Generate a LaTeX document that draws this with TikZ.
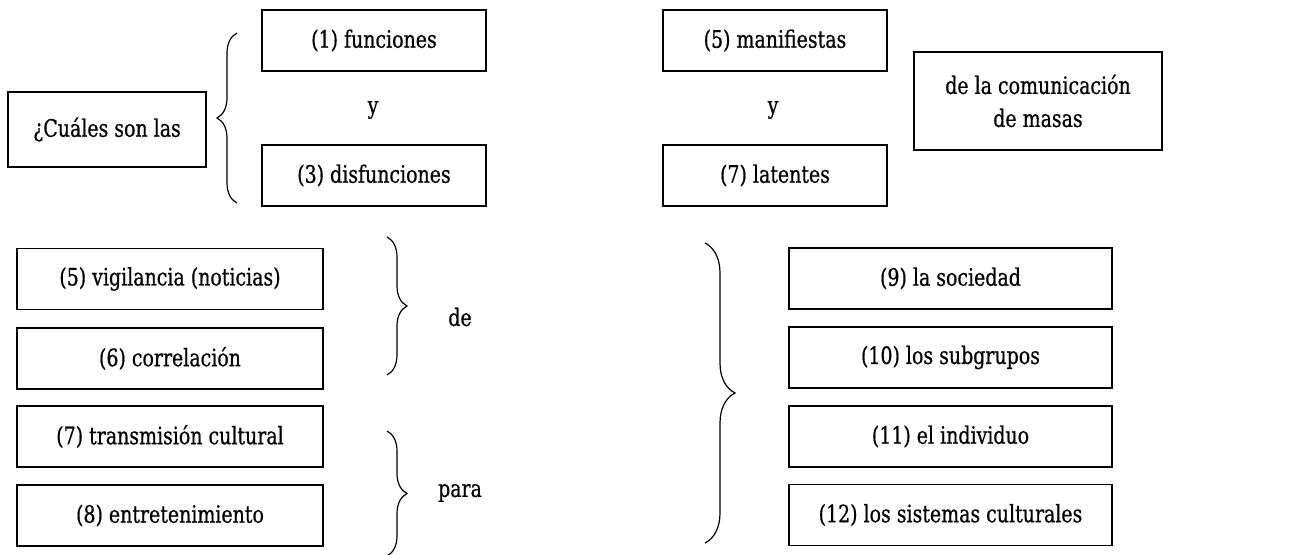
\documentclass[tikz,border=0pt]{standalone}
\usepackage{fontspec}
\setmainfont[FakeStretch=0.79, FakeBold=0.6]{DejaVu Serif}
\usetikzlibrary{decorations.pathreplacing}

\tikzset{
	box/.style={draw, line width=0.9pt, minimum height=30.5pt, inner sep=0pt, font=\fontsize{12}{16.5}\selectfont},
	word/.style={font=\fontsize{12}{16.5}\selectfont},
	curly/.style={decorate, decoration={brace, amplitude=#1}, line width=0.6pt}
}

\begin{document}
\begin{tikzpicture}[x=0.5pt, y=-0.5pt]
\useasboundingbox (0,0) rectangle (1290,555);

\node[box, minimum width=99pt, minimum height=37.5pt] (cuales) at (107,129.5) {¿Cuáles son las};
\draw[curly=10pt] (237,203) -- (237,33);

\node[box, minimum width=112pt] (func) at (374,40.5) {(1) funciones};
\node[word] (y1) at (373,110) {y};
\node[box, minimum width=112pt] (disf) at (374,175.5) {(3) disfunciones};

\node[box, minimum width=112pt] (manif) at (775,40.5) {(5) manifiestas};
\node[word] (y2) at (773,110) {y};
\node[box, minimum width=112pt] (lat) at (775,175.5) {(7) latentes};

\node[box, minimum width=124pt, minimum height=49pt, align=center] (masas) at (1038,101) {de la comunicación\\de masas};

\foreach \name/\ypos/\text in {
	vig/279/{(5) vigilancia (noticias)},
	corr/358.5/{(6) correlación},
	trans/436.5/{(7) transmisión cultural},
	entr/515.5/{(8) entretenimiento}}
\node[box, minimum width=153pt] (\name) at (170,\ypos) {\text};

\draw[curly=10pt] (387,237) -- (387,375);
\node[word] (de) at (460,317) {de};
\draw[curly=10pt] (387,431) -- (387,556);
\node[word] (para) at (460,493) {para};

\draw[curly=15pt] (705,243) -- (705,543);
\foreach \name/\ypos/\text in {
	soc/278.5/{(9) la sociedad},
	sub/357.5/{(10) los subgrupos},
	ind/436.5/{(11) el individuo},
	sist/515/{(12) los sistemas culturales}}
\node[box, minimum width=161.5pt] (\name) at (950.5,\ypos) {\text};

\end{tikzpicture}
\end{document}
